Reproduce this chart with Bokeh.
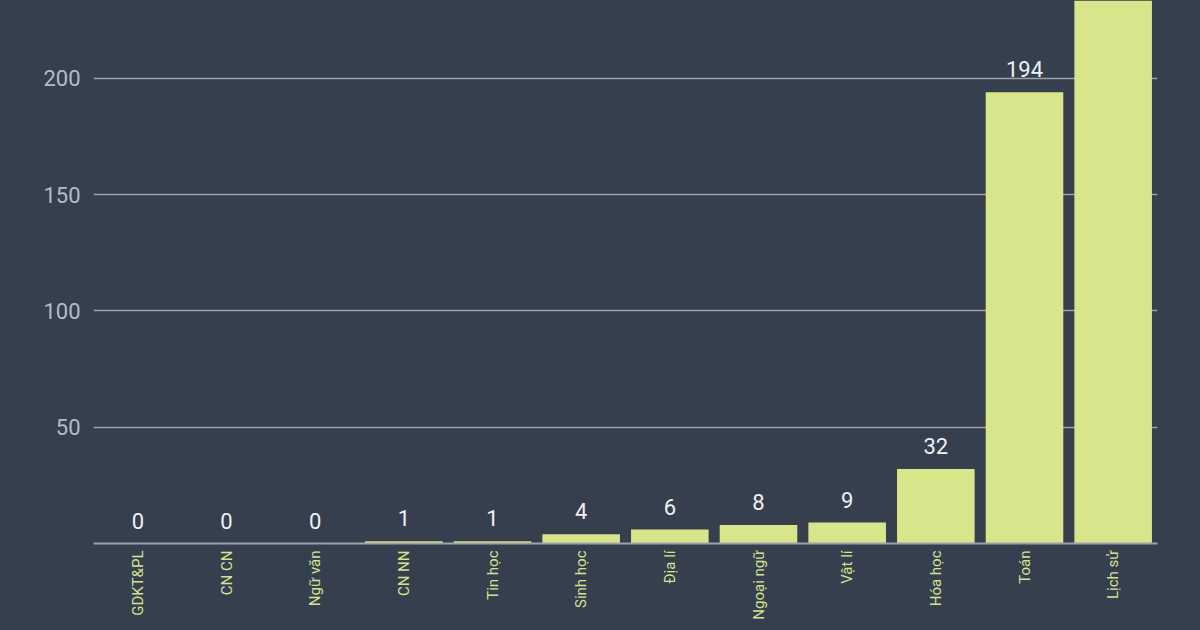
from bokeh.plotting import figure
from bokeh.models import ColumnDataSource, FixedTicker, Range1d
from bokeh.core.properties import value
from bokeh.embed import file_html
from bokeh.resources import INLINE
import math

# ---- data ----
subjects = ["GDKT&PL", "CN CN", "Ngữ văn", "CN NN", "Tin học", "Sinh học",
            "Địa lí", "Ngoại ngữ", "Vật lí", "Hóa học", "Toán", "Lịch sử"]
counts = [0, 0, 0, 1, 1, 4, 6, 8, 9, 32, 194, 260]
y_ticks = [50, 100, 150, 200]

BG = "#353f4e"
BAR = "#d9e58b"
GRID = "#9da2aa"
FONT = "Roboto"

W, H = 1192, 622
FRAME_TOP, FRAME_BOTTOM = 0, 545
PX_PER_UNIT = (FRAME_BOTTOM - 78) / 200.0
Y_END = (FRAME_BOTTOM - FRAME_TOP) / PX_PER_UNIT

src = ColumnDataSource(dict(x=subjects, y=counts))
shown = [(s, c) for s, c in zip(subjects, counts) if c < Y_END - 8]
lbl_src = ColumnDataSource(dict(x=[s for s, _ in shown], y=[c for _, c in shown],
                                t=[str(c) for _, c in shown]))

p = figure(x_range=subjects, y_range=Range1d(0, Y_END),
           width=W, height=H, output_backend="svg", toolbar_location=None,
           background_fill_color=BG, border_fill_color=BG,
           min_border_left=93, min_border_right=35, min_border_top=FRAME_TOP,
           min_border_bottom=H - FRAME_BOTTOM, outline_line_color=None)

p.vbar(x="x", top="y", width=0.875, source=src, fill_color=BAR, line_color=None)

p.text(x="x", y="y", text="t", source=lbl_src, text_align="center",
       text_baseline="bottom", y_offset=-15, text_color="#eef0f2",
       text_font=value(FONT), text_font_size="22px")

# y axis
p.yaxis.ticker = FixedTicker(ticks=y_ticks)
p.yaxis.axis_line_color = None
p.yaxis.major_tick_line_color = None
p.yaxis.minor_tick_line_color = None
p.yaxis.major_tick_out = 0
p.yaxis.major_tick_in = 0
p.yaxis.major_label_standoff = 13
p.yaxis.major_label_text_color = "#b4bcc6"
p.yaxis.major_label_text_font = FONT
p.yaxis.major_label_text_font_size = "22px"

# x axis
p.xaxis.axis_line_color = GRID
p.xaxis.axis_line_width = 2
p.xaxis.major_tick_line_color = None
p.xaxis.minor_tick_line_color = None
p.xaxis.major_tick_out = 0
p.xaxis.major_tick_in = 0
p.xaxis.major_label_orientation = math.pi / 2
p.xaxis.major_label_standoff = 7
p.xaxis.major_label_text_color = "#d6e290"
p.xaxis.major_label_text_font = FONT
p.xaxis.major_label_text_font_size = "15px"

p.ygrid.ticker = FixedTicker(ticks=y_ticks)
p.ygrid.grid_line_color = GRID
p.ygrid.grid_line_width = 1.5
p.xgrid.grid_line_color = None

html = file_html(p, INLINE)
html = html.replace("</head>",
                    "<style>html,body{background:%s;}</style></head>" % BG, 1)
open("out.html", "w").write(html)
